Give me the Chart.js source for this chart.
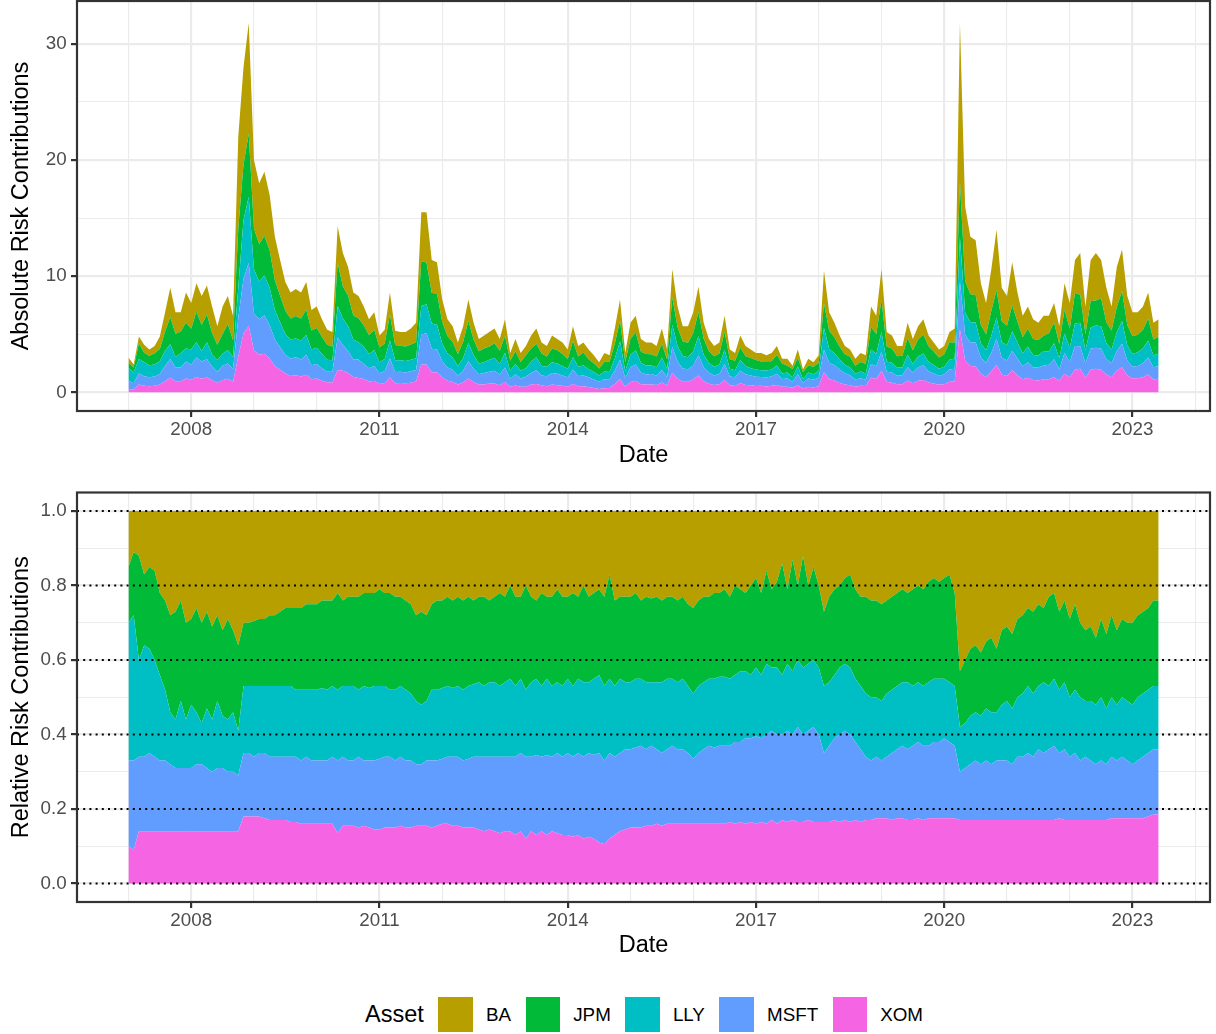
<!DOCTYPE html>
<html>
<head>
<meta charset="utf-8">
<script src="https://cdn.jsdelivr.net/npm/chart.js@4.4.1/dist/chart.umd.min.js"></script>
<style>
  html, body { margin:0; padding:0; background:#fff; width:1216px; height:1034px; overflow:hidden;
    font-family:"Liberation Sans", Arial, Helvetica, sans-serif; }
  #c1 { position:absolute; left:0; top:0; width:1216px; height:470px; }
  #c2 { position:absolute; left:0; top:470px; width:1216px; height:490px; }
  #legend { position:absolute; left:365px; top:997px; height:35px; display:flex; align-items:center; white-space:nowrap; }
  #legend .lt { font-size:23.5px; color:#000; margin-right:14.7px; }
  #legend .key { width:34.6px; height:34.6px; display:inline-block; }
  #legend .lab { font-size:18.8px; color:#000; margin-left:13px; margin-right:14.5px; }
</style>
</head>
<body>
<canvas id="c1" width="1216" height="470"></canvas>
<canvas id="c2" width="1216" height="490"></canvas>
<div id="legend"></div>
<script>
// ---------------- DATA ----------------
const assets = ['BA', 'JPM', 'LLY', 'MSFT', 'XOM'];          // legend order (BA stacked on top)
const assetColors = ['#B79F00', '#00BA38', '#00BFC4', '#619CFF', '#F564E3'];
const firstYear = 2007;                                       // monthly observations from Jan 2007

// total (absolute) risk, one value per month
const totalRisk = [
  3.0, 2.4, 4.8, 4.1, 3.7, 4.0, 4.8, 6.9, 9.0, 6.9, 6.9, 8.6,
  7.7, 9.4, 8.3, 9.2, 7.4, 5.7, 7.4, 8.3, 6.6, 22.0, 28.0, 31.8,
  20.0, 18.0, 19.0, 17.0, 13.4, 11.4, 9.5, 8.6, 8.9, 8.6, 9.5, 7.1,
  7.4, 6.3, 5.4, 5.2, 14.3, 12.0, 10.8, 8.6, 8.3, 7.4, 6.3, 6.9,
  4.9, 5.4, 8.6, 5.3, 5.2, 5.2, 5.5, 6.0, 15.5, 15.5, 11.4, 11.2,
  8.0, 6.3, 5.7, 4.3, 5.7, 8.0, 6.0, 4.6, 4.9, 5.2, 5.5, 4.6,
  6.3, 3.4, 4.6, 3.4, 4.0, 4.9, 5.5, 4.3, 4.0, 4.9, 4.6, 4.3,
  3.7, 5.7, 4.0, 4.3, 3.7, 3.2, 2.6, 3.4, 3.2, 5.5, 8.0, 3.4,
  6.0, 6.6, 4.6, 4.3, 4.3, 4.0, 5.5, 3.7, 10.6, 7.4, 5.7, 5.7,
  6.9, 9.1, 6.0, 4.6, 4.0, 4.3, 6.6, 3.7, 3.4, 4.9, 4.0, 3.7,
  3.4, 3.4, 3.2, 3.4, 4.0, 2.9, 2.9, 2.3, 3.7, 2.0, 2.9, 2.6,
  3.2, 10.5, 6.9, 6.0, 4.9, 4.0, 3.7, 2.9, 3.4, 3.2, 7.4, 6.6,
  10.6, 5.2, 4.9, 4.0, 4.0, 6.0, 4.6, 5.7, 6.3, 4.9, 4.3, 3.7,
  4.0, 5.2, 5.5, 31.8, 16.0, 13.4, 13.1, 9.4, 7.7, 10.6, 14.0, 9.0,
  8.3, 11.2, 8.6, 6.6, 7.4, 6.3, 6.0, 6.6, 6.6, 7.7, 5.7, 9.4,
  7.7, 11.4, 12.0, 7.4, 11.4, 12.0, 11.4, 9.0, 7.4, 10.8, 12.3, 8.3,
  6.9, 6.9, 7.4, 8.6, 6.0, 6.3
];

// relative risk contributions (bottom panel), one value per month
const relBA = [
  .15,.11,.12,.17,.15,.16,.22,.24,.28,.27,.24,.30,
  .29,.26,.30,.27,.31,.28,.32,.29,.32,.36,.30,.30,
  .295,.29,.29,.28,.28,.27,.26,.26,.26,.26,.25,.25,
  .25,.24,.24,.24,.22,.24,.23,.23,.23,.22,.22,.22,
  .21,.22,.22,.23,.23,.24,.25,.28,.27,.28,.25,.24,
  .24,.23,.24,.23,.24,.23,.24,.23,.23,.24,.23,.22,
  .23,.20,.23,.23,.20,.23,.24,.22,.23,.23,.21,.23,
  .23,.22,.23,.20,.23,.22,.21,.23,.17,.24,.23,.23,
  .23,.22,.24,.23,.235,.23,.24,.23,.23,.24,.23,.25,
  .26,.24,.23,.23,.22,.22,.21,.23,.20,.21,.22,.20,
  .18,.22,.16,.21,.19,.14,.21,.13,.20,.12,.20,.15,
  .20,.27,.23,.21,.20,.18,.17,.21,.23,.23,.24,.24,
  .25,.24,.23,.22,.21,.22,.21,.20,.21,.19,.18,.19,
  .18,.17,.22,.43,.40,.37,.36,.38,.35,.34,.37,.32,
  .31,.33,.29,.28,.26,.27,.25,.26,.23,.22,.27,.24,
  .29,.25,.30,.32,.31,.34,.29,.33,.28,.32,.29,.30,
  .30,.28,.27,.26,.24,.24
];
const relJPM = [
  .15,.17,.28,.19,.22,.24,.22,.24,.26,.29,.27,.26,
  .23,.28,.27,.26,.25,.23,.23,.27,.22,.23,.17,.17,
  .175,.18,.18,.19,.19,.20,.21,.21,.22,.22,.23,.23,
  .23,.235,.24,.23,.26,.23,.24,.24,.25,.25,.255,.25,
  .26,.25,.26,.25,.24,.24,.24,.23,.25,.23,.23,.24,
  .235,.24,.235,.24,.24,.24,.225,.23,.24,.22,.23,.25,
  .23,.25,.24,.22,.28,.23,.21,.25,.22,.24,.25,.24,
  .22,.25,.22,.26,.23,.23,.23,.24,.28,.23,.22,.23,
  .23,.23,.21,.23,.225,.23,.22,.22,.22,.22,.22,.22,
  .23,.23,.23,.22,.23,.225,.235,.22,.24,.22,.21,.24,
  .24,.22,.25,.21,.23,.30,.20,.30,.20,.30,.21,.25,
  .22,.20,.23,.23,.22,.23,.25,.24,.24,.26,.26,.26,
  .26,.25,.25,.25,.25,.24,.26,.26,.26,.27,.27,.26,
  .27,.29,.25,.15,.17,.18,.18,.17,.18,.20,.17,.20,
  .20,.20,.21,.21,.21,.22,.22,.20,.24,.23,.21,.22,
  .21,.23,.20,.19,.20,.18,.21,.20,.22,.20,.21,.21,
  .22,.22,.22,.22,.23,.23
];
const relLLY = [
  .37,.39,.26,.30,.28,.26,.23,.19,.14,.13,.18,.13,
  .17,.14,.11,.16,.14,.18,.14,.14,.16,.12,.18,.18,
  .19,.18,.18,.19,.19,.19,.19,.19,.18,.19,.18,.19,
  .19,.195,.19,.19,.19,.19,.20,.20,.18,.20,.195,.20,
  .195,.19,.18,.19,.19,.19,.18,.17,.16,.16,.19,.19,
  .19,.19,.185,.19,.19,.195,.195,.20,.19,.20,.20,.19,
  .20,.21,.19,.20,.18,.20,.205,.19,.205,.19,.19,.19,
  .20,.19,.20,.20,.19,.205,.21,.20,.20,.19,.20,.18,
  .18,.185,.18,.18,.17,.18,.19,.19,.18,.18,.19,.18,
  .175,.18,.18,.18,.185,.185,.185,.18,.18,.19,.18,.17,
  .185,.17,.19,.17,.18,.16,.18,.17,.18,.18,.18,.18,
  .18,.18,.17,.17,.18,.18,.18,.17,.17,.17,.17,.16,
  .16,.17,.17,.17,.17,.18,.16,.16,.16,.17,.17,.17,
  .16,.16,.16,.12,.12,.13,.13,.13,.14,.14,.13,.15,
  .16,.15,.16,.17,.18,.17,.17,.19,.17,.18,.17,.18,
  .16,.17,.17,.15,.16,.16,.17,.15,.16,.15,.16,.16,
  .16,.17,.17,.17,.17,.17
];
const relMSFT = [
  .23,.24,.20,.20,.21,.20,.19,.19,.18,.17,.17,.17,
  .17,.18,.18,.17,.16,.17,.17,.16,.16,.15,.17,.17,
  .16,.17,.175,.17,.17,.17,.17,.175,.175,.17,.18,.17,
  .17,.17,.17,.18,.195,.185,.175,.175,.19,.175,.18,.185,
  .19,.19,.19,.18,.185,.18,.18,.165,.165,.175,.18,.175,
  .175,.18,.185,.185,.18,.185,.19,.195,.20,.195,.20,.205,
  .20,.20,.21,.21,.22,.20,.215,.20,.215,.20,.215,.21,
  .22,.215,.22,.22,.225,.225,.24,.225,.23,.21,.21,.215,
  .21,.215,.22,.205,.215,.20,.195,.20,.21,.20,.20,.19,
  .175,.19,.20,.21,.205,.21,.21,.205,.22,.215,.23,.225,
  .235,.225,.24,.24,.24,.23,.245,.23,.255,.235,.24,.255,
  .235,.185,.205,.22,.235,.24,.235,.21,.195,.17,.16,.165,
  .155,.165,.18,.185,.195,.19,.20,.205,.20,.195,.205,.205,
  .215,.205,.195,.13,.14,.15,.16,.15,.16,.15,.16,.16,
  .16,.15,.17,.17,.18,.17,.19,.18,.19,.20,.175,.19,
  .17,.18,.16,.17,.16,.15,.16,.15,.165,.155,.165,.155,
  .145,.155,.165,.17,.175,.175
];
const relXOM = [
  .10,.09,.14,.14,.14,.14,.14,.14,.14,.14,.14,.14,
  .14,.14,.14,.14,.14,.14,.14,.14,.14,.14,.18,.18,
  .18,.18,.175,.17,.17,.17,.17,.165,.165,.16,.16,.16,
  .16,.16,.16,.16,.135,.155,.155,.155,.15,.155,.15,.145,
  .145,.15,.15,.15,.155,.15,.15,.155,.155,.155,.15,.155,
  .16,.16,.155,.155,.15,.15,.15,.145,.14,.145,.14,.135,
  .14,.14,.13,.14,.12,.14,.13,.14,.13,.14,.135,.13,
  .13,.125,.13,.12,.125,.12,.11,.105,.12,.13,.14,.145,
  .15,.15,.15,.155,.155,.16,.155,.16,.16,.16,.16,.16,
  .16,.16,.16,.16,.16,.16,.16,.165,.16,.165,.16,.165,
  .16,.165,.16,.17,.16,.17,.165,.17,.165,.165,.17,.165,
  .165,.165,.165,.17,.165,.17,.165,.17,.165,.17,.17,.175,
  .175,.175,.17,.175,.175,.17,.17,.175,.17,.175,.175,.175,
  .175,.175,.175,.17,.17,.17,.17,.17,.17,.17,.17,.17,
  .17,.17,.17,.17,.17,.17,.17,.17,.17,.17,.175,.17,
  .17,.17,.17,.17,.17,.17,.17,.17,.175,.175,.175,.175,
  .175,.175,.175,.18,.185,.185
];
const relByAsset = [relBA, relJPM, relLLY, relMSFT, relXOM];

// axis breaks
const xLabelYears = [2008, 2011, 2014, 2017, 2020, 2023];
const xGridYears = [2007,2008,2009,2010,2011,2012,2013,2014,2015,2016,2017,2018,2019,2020,2021,2022,2023,2024];
const absMajor = [0, 10, 20, 30];
const absMinor = [5, 15, 25];
const relMajor = [0, 0.2, 0.4, 0.6, 0.8, 1.0];
const relMinor = [0.1, 0.3, 0.5, 0.7, 0.9];
const refLines = [0, 0.2, 0.4, 0.6, 0.8, 1.0];

// ---------------- CHARTS ----------------
const FONT = '"Liberation Sans", Arial, Helvetica, sans-serif';
const months = totalRisk.map((_, i) => firstYear + i / 12);
const isIn = (arr, v) => arr.some(t => Math.abs(t - v) < 1e-9);

function makeDatasets(absolute) {
  // stacking order: XOM bottom ... BA top
  const order = [4, 3, 2, 1, 0];
  return order.map((ai, j) => ({
    label: assets[ai],
    data: months.map((m, i) => ({ x: m, y: absolute ? relByAsset[ai][i] * totalRisk[i] : relByAsset[ai][i] })),
    backgroundColor: assetColors[ai],
    borderColor: 'rgba(0,0,0,0)',
    borderWidth: 0,
    pointRadius: 0,
    tension: 0,
    fill: j === 0 ? 'origin' : '-1'
  }));
}

function xScale(height) {
  return {
    type: 'linear', min: 2006.18, max: 2024.235,
    afterBuildTicks(s) { s.ticks = xGridYears.map(v => ({ value: v })); },
    afterFit(s) { s.height = height; s.paddingLeft = 0; s.paddingRight = 0; },
    ticks: { autoSkip: false, maxRotation: 0, minRotation: 0, padding: 2, color: '#4D4D4D',
      font: { family: FONT, size: 18.8 }, callback: v => isIn(xLabelYears, v) ? String(v) : '' },
    grid: { color: '#EBEBEB',
      lineWidth: c => (c.tick && isIn(xLabelYears, c.tick.value)) ? 2.2 : 1.1,
      drawTicks: true, tickLength: 6, tickWidth: 2.2,
      tickColor: c => (c.tick && isIn(xLabelYears, c.tick.value)) ? '#333333' : 'rgba(0,0,0,0)' },
    border: { display: false },
    title: { display: true, text: 'Date', color: '#000000', font: { family: FONT, size: 23.5 }, padding: { top: 0, bottom: 0 } }
  };
}

function yScale(min, max, major, minor, fmt, title) {
  return {
    type: 'linear', stacked: true, min, max,
    afterBuildTicks(s) { s.ticks = major.concat(minor).sort((a, b) => a - b).map(v => ({ value: v })); },
    afterFit(s) { s.width = 77; s.paddingTop = 0; s.paddingBottom = 0; },
    ticks: { autoSkip: false, padding: 4.3, color: '#4D4D4D', font: { family: FONT, size: 18.8 },
      callback: v => isIn(major, v) ? fmt(v) : '' },
    grid: { color: '#EBEBEB',
      lineWidth: c => (c.tick && isIn(major, c.tick.value)) ? 2.2 : 1.1,
      drawTicks: true, tickLength: 6, tickWidth: 2.2,
      tickColor: c => (c.tick && isIn(major, c.tick.value)) ? '#333333' : 'rgba(0,0,0,0)' },
    border: { display: false },
    title: { display: true, text: title, color: '#000000', font: { family: FONT, size: 23.5 }, padding: { top: 7, bottom: 0 } }
  };
}

const panelBorder = {
  id: 'panelBorder',
  afterDraw(chart) {
    const { ctx, chartArea: a } = chart;
    ctx.save();
    ctx.strokeStyle = '#333333';
    ctx.lineWidth = 2.2;
    ctx.strokeRect(a.left, a.top, a.right - a.left, a.bottom - a.top);
    ctx.restore();
  }
};

const refLinePlugin = {
  id: 'refLines',
  afterDatasetsDraw(chart) {
    const { ctx, chartArea: a, scales } = chart;
    ctx.save();
    ctx.strokeStyle = '#000000';
    ctx.lineWidth = 2;
    ctx.setLineDash([2, 4.2]);
    refLines.forEach(v => {
      const py = scales.y.getPixelForValue(v);
      ctx.beginPath();
      ctx.moveTo(a.left, py);
      ctx.lineTo(a.right, py);
      ctx.stroke();
    });
    ctx.restore();
  }
};

const commonOpts = {
  responsive: false, animation: false, devicePixelRatio: 1,
  plugins: { legend: { display: false }, tooltip: { enabled: false } },
  elements: { point: { radius: 0 }, line: { borderWidth: 0 } }
};

new Chart(document.getElementById('c1'), {
  type: 'line',
  data: { datasets: makeDatasets(true) },
  options: Object.assign({}, commonOpts, {
    layout: { padding: { left: 0, right: 6, top: 1, bottom: 0 } },
    scales: {
      x: xScale(59),
      y: yScale(-1.605, 33.7, absMajor, absMinor, v => String(v), 'Absolute Risk Contributions')
    }
  }),
  plugins: [panelBorder]
});

new Chart(document.getElementById('c2'), {
  type: 'line',
  data: { datasets: makeDatasets(false) },
  options: Object.assign({}, commonOpts, {
    layout: { padding: { left: 0, right: 6, top: 22.5, bottom: 0 } },
    scales: {
      x: xScale(58),
      y: yScale(-0.05, 1.05, relMajor, relMinor, v => v.toFixed(1), 'Relative Risk Contributions')
    }
  }),
  plugins: [refLinePlugin, panelBorder]
});

// ---------------- LEGEND ----------------
const legend = document.getElementById('legend');
legend.innerHTML = '<span class="lt">Asset</span>' + assets.map((a, i) =>
  '<span class="key" style="background:' + assetColors[i] + '"></span><span class="lab">' + a + '</span>').join('');
</script>
</body>
</html>
